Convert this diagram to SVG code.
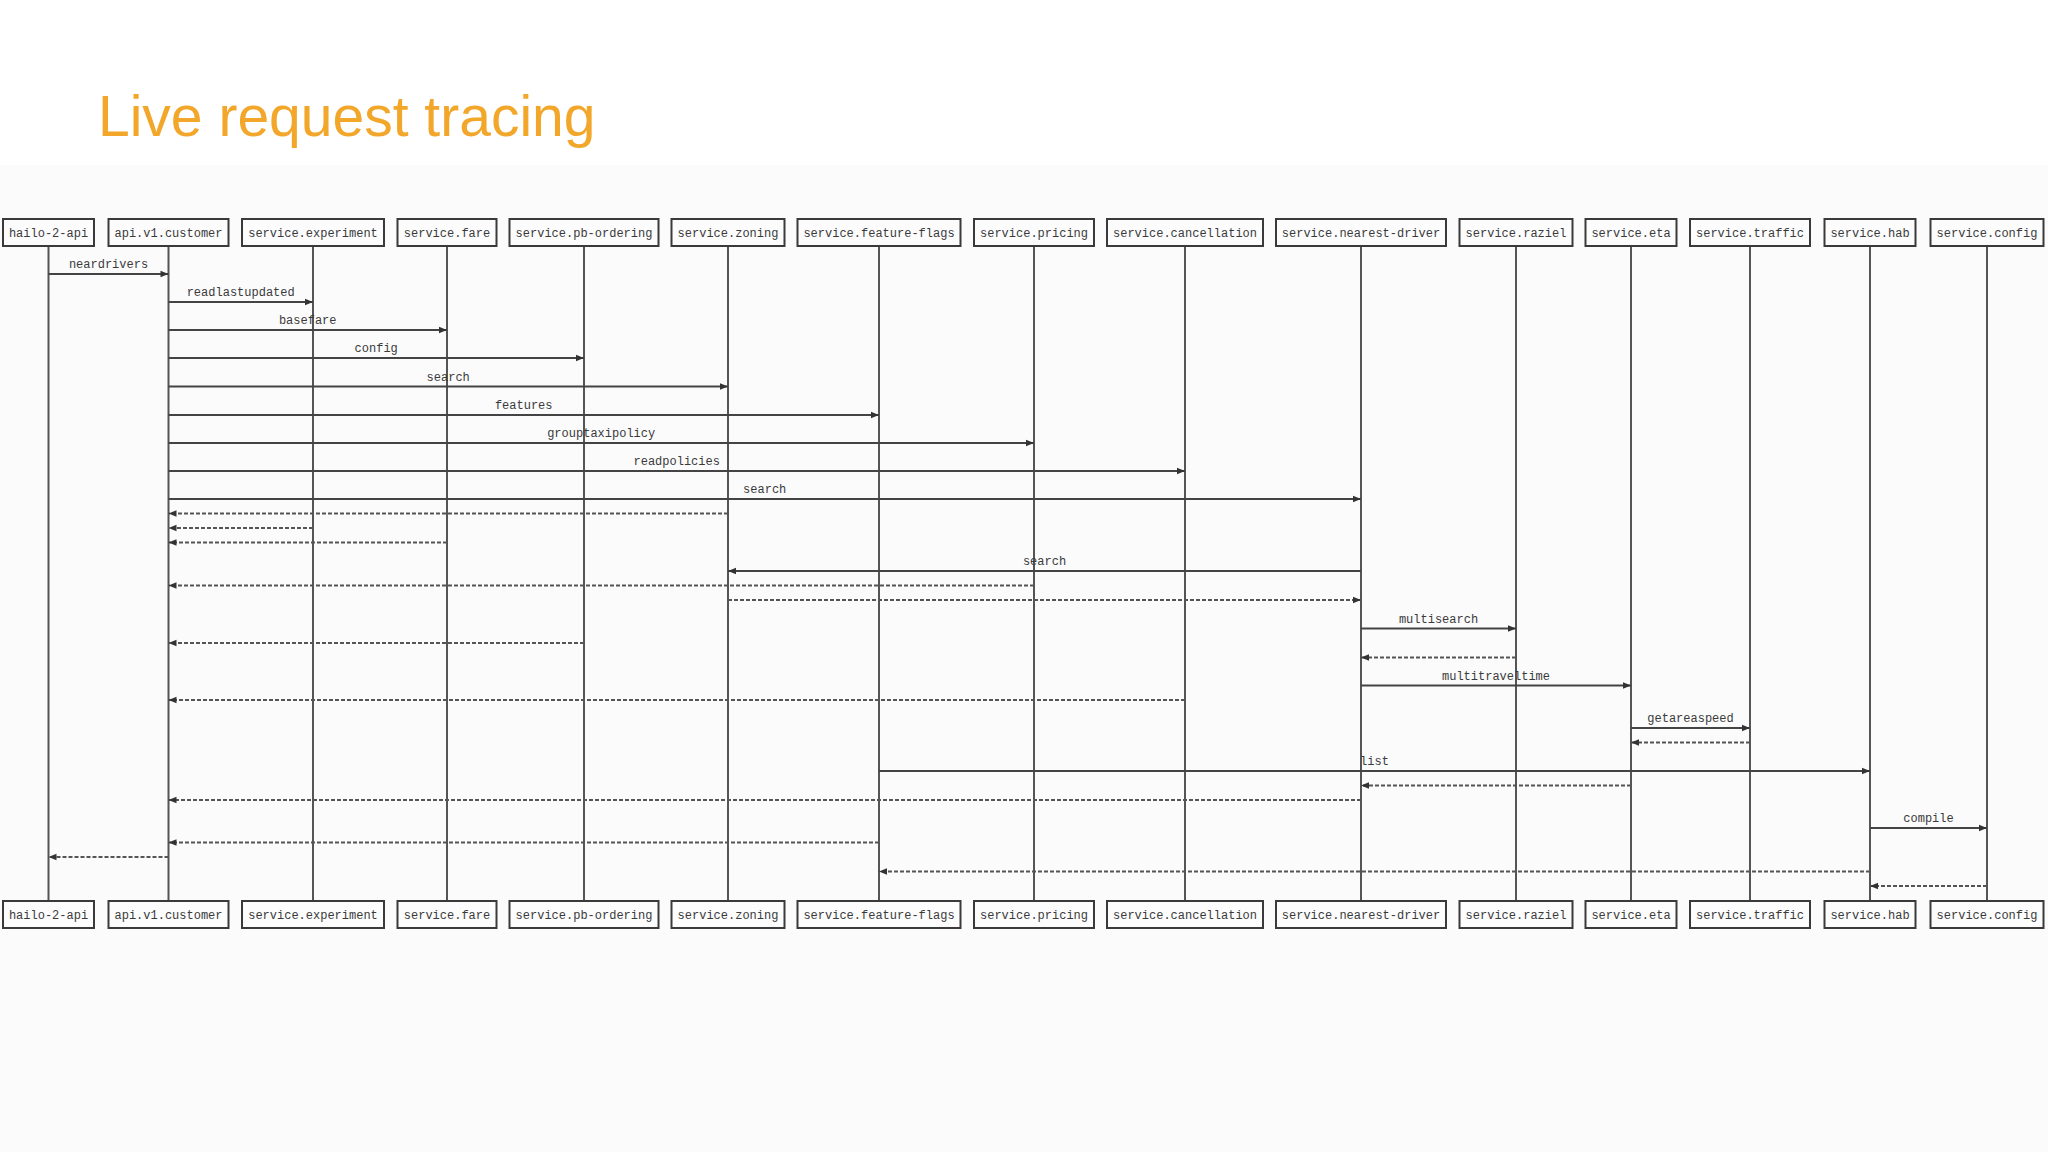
<svg xmlns="http://www.w3.org/2000/svg" width="2048" height="1152" viewBox="0 0 2048 1152">
<defs>
<style>
.box{fill:#fcfcfd;stroke:#3a3a3a;stroke-width:2}
.lbl{font-family:"Liberation Mono","DejaVu Sans Mono",monospace;font-size:12px;fill:#3a3a3a;text-anchor:middle}
.life{stroke:#555;stroke-width:2}
.msg{stroke:#444;stroke-width:2;fill:none;marker-end:url(#ah)}
.ret{stroke:#555;stroke-width:2;fill:none;stroke-dasharray:4 2;marker-end:url(#ah)}
.title{font-family:"Liberation Sans",Arial,sans-serif;font-size:57px;fill:#F2A72B}
</style>
<marker id="ah" viewBox="0 0 10 10" refX="10" refY="5" markerWidth="9" markerHeight="8" markerUnits="userSpaceOnUse" orient="auto">
<path d="M0,1 L10,5 L0,9 z" fill="#333"/>
</marker>
</defs>
<rect x="0" y="0" width="2048" height="1152" fill="#ffffff"/>
<rect x="0" y="165" width="2048" height="987" fill="#fbfbfc"/>
<text class="title" x="98" y="136">Live request tracing</text>

<g id="lifelines">
<line class="life" x1="48.5" y1="246" x2="48.5" y2="901"/>
<line class="life" x1="168.5" y1="246" x2="168.5" y2="901"/>
<line class="life" x1="313" y1="246" x2="313" y2="901"/>
<line class="life" x1="447" y1="246" x2="447" y2="901"/>
<line class="life" x1="584" y1="246" x2="584" y2="901"/>
<line class="life" x1="728" y1="246" x2="728" y2="901"/>
<line class="life" x1="879" y1="246" x2="879" y2="901"/>
<line class="life" x1="1034" y1="246" x2="1034" y2="901"/>
<line class="life" x1="1185" y1="246" x2="1185" y2="901"/>
<line class="life" x1="1361" y1="246" x2="1361" y2="901"/>
<line class="life" x1="1516" y1="246" x2="1516" y2="901"/>
<line class="life" x1="1631" y1="246" x2="1631" y2="901"/>
<line class="life" x1="1750" y1="246" x2="1750" y2="901"/>
<line class="life" x1="1870" y1="246" x2="1870" y2="901"/>
<line class="life" x1="1987" y1="246" x2="1987" y2="901"/>
</g>

<g id="n-hailo-2-api"><rect class="box" x="3" y="219" width="91" height="27"/><text class="lbl" x="48.5" y="237">hailo-2-api</text><rect class="box" x="3" y="901" width="91" height="27"/><text class="lbl" x="48.5" y="919">hailo-2-api</text></g>
<g id="n-api-v1-customer"><rect class="box" x="108.5" y="219" width="120" height="27"/><text class="lbl" x="168.5" y="237">api.v1.customer</text><rect class="box" x="108.5" y="901" width="120" height="27"/><text class="lbl" x="168.5" y="919">api.v1.customer</text></g>
<g id="n-service-experiment"><rect class="box" x="242" y="219" width="142" height="27"/><text class="lbl" x="313" y="237">service.experiment</text><rect class="box" x="242" y="901" width="142" height="27"/><text class="lbl" x="313" y="919">service.experiment</text></g>
<g id="n-service-fare"><rect class="box" x="397.5" y="219" width="99" height="27"/><text class="lbl" x="447" y="237">service.fare</text><rect class="box" x="397.5" y="901" width="99" height="27"/><text class="lbl" x="447" y="919">service.fare</text></g>
<g id="n-service-pb-ordering"><rect class="box" x="509.5" y="219" width="149" height="27"/><text class="lbl" x="584" y="237">service.pb-ordering</text><rect class="box" x="509.5" y="901" width="149" height="27"/><text class="lbl" x="584" y="919">service.pb-ordering</text></g>
<g id="n-service-zoning"><rect class="box" x="671.5" y="219" width="113" height="27"/><text class="lbl" x="728" y="237">service.zoning</text><rect class="box" x="671.5" y="901" width="113" height="27"/><text class="lbl" x="728" y="919">service.zoning</text></g>
<g id="n-service-feature-flags"><rect class="box" x="797.5" y="219" width="163" height="27"/><text class="lbl" x="879" y="237">service.feature-flags</text><rect class="box" x="797.5" y="901" width="163" height="27"/><text class="lbl" x="879" y="919">service.feature-flags</text></g>
<g id="n-service-pricing"><rect class="box" x="974" y="219" width="120" height="27"/><text class="lbl" x="1034" y="237">service.pricing</text><rect class="box" x="974" y="901" width="120" height="27"/><text class="lbl" x="1034" y="919">service.pricing</text></g>
<g id="n-service-cancellation"><rect class="box" x="1107" y="219" width="156" height="27"/><text class="lbl" x="1185" y="237">service.cancellation</text><rect class="box" x="1107" y="901" width="156" height="27"/><text class="lbl" x="1185" y="919">service.cancellation</text></g>
<g id="n-service-nearest-driver"><rect class="box" x="1276" y="219" width="170" height="27"/><text class="lbl" x="1361" y="237">service.nearest-driver</text><rect class="box" x="1276" y="901" width="170" height="27"/><text class="lbl" x="1361" y="919">service.nearest-driver</text></g>
<g id="n-service-raziel"><rect class="box" x="1459.5" y="219" width="113" height="27"/><text class="lbl" x="1516" y="237">service.raziel</text><rect class="box" x="1459.5" y="901" width="113" height="27"/><text class="lbl" x="1516" y="919">service.raziel</text></g>
<g id="n-service-eta"><rect class="box" x="1585.5" y="219" width="91" height="27"/><text class="lbl" x="1631" y="237">service.eta</text><rect class="box" x="1585.5" y="901" width="91" height="27"/><text class="lbl" x="1631" y="919">service.eta</text></g>
<g id="n-service-traffic"><rect class="box" x="1690" y="219" width="120" height="27"/><text class="lbl" x="1750" y="237">service.traffic</text><rect class="box" x="1690" y="901" width="120" height="27"/><text class="lbl" x="1750" y="919">service.traffic</text></g>
<g id="n-service-hab"><rect class="box" x="1824.5" y="219" width="91" height="27"/><text class="lbl" x="1870" y="237">service.hab</text><rect class="box" x="1824.5" y="901" width="91" height="27"/><text class="lbl" x="1870" y="919">service.hab</text></g>
<g id="n-service-config"><rect class="box" x="1930.5" y="219" width="113" height="27"/><text class="lbl" x="1987" y="237">service.config</text><rect class="box" x="1930.5" y="901" width="113" height="27"/><text class="lbl" x="1987" y="919">service.config</text></g>

<g id="connectors">
<line class="msg" x1="48.5" y1="274" x2="168.5" y2="274"/><text class="lbl" x="108.5" y="268">neardrivers</text>
<line class="msg" x1="168.5" y1="302" x2="313" y2="302"/><text class="lbl" x="240.7" y="296">readlastupdated</text>
<line class="msg" x1="168.5" y1="330" x2="447" y2="330"/><text class="lbl" x="307.7" y="324">basefare</text>
<line class="msg" x1="168.5" y1="358" x2="584" y2="358"/><text class="lbl" x="376.2" y="352">config</text>
<line class="msg" x1="168.5" y1="386.5" x2="728" y2="386.5"/><text class="lbl" x="448.2" y="380.5">search</text>
<line class="msg" x1="168.5" y1="415" x2="879" y2="415"/><text class="lbl" x="523.7" y="409">features</text>
<line class="msg" x1="168.5" y1="443" x2="1034" y2="443"/><text class="lbl" x="601.2" y="437">grouptaxipolicy</text>
<line class="msg" x1="168.5" y1="471" x2="1185" y2="471"/><text class="lbl" x="676.7" y="465">readpolicies</text>
<line class="msg" x1="168.5" y1="499" x2="1361" y2="499"/><text class="lbl" x="764.7" y="493">search</text>
<line class="ret" x1="728" y1="513.5" x2="168.5" y2="513.5"/>
<line class="ret" x1="313" y1="528" x2="168.5" y2="528"/>
<line class="ret" x1="447" y1="542.5" x2="168.5" y2="542.5"/>
<line class="msg" x1="1361" y1="571" x2="728" y2="571"/><text class="lbl" x="1044.5" y="565">search</text>
<line class="ret" x1="1034" y1="585.5" x2="168.5" y2="585.5"/>
<line class="ret" x1="728" y1="600" x2="1361" y2="600"/>
<line class="msg" x1="1361" y1="628.5" x2="1516" y2="628.5"/><text class="lbl" x="1438.5" y="622.5">multisearch</text>
<line class="ret" x1="584" y1="643" x2="168.5" y2="643"/>
<line class="ret" x1="1516" y1="657.5" x2="1361" y2="657.5"/>
<line class="msg" x1="1361" y1="685.5" x2="1631" y2="685.5"/><text class="lbl" x="1496" y="679.5">multitraveltime</text>
<line class="ret" x1="1185" y1="700" x2="168.5" y2="700"/>
<line class="msg" x1="1631" y1="728" x2="1750" y2="728"/><text class="lbl" x="1690.5" y="722">getareaspeed</text>
<line class="ret" x1="1750" y1="742.5" x2="1631" y2="742.5"/>
<line class="msg" x1="879" y1="771" x2="1870" y2="771"/><text class="lbl" x="1374.5" y="765">list</text>
<line class="ret" x1="1631" y1="785.5" x2="1361" y2="785.5"/>
<line class="ret" x1="1361" y1="800" x2="168.5" y2="800"/>
<line class="msg" x1="1870" y1="828" x2="1987" y2="828"/><text class="lbl" x="1928.5" y="822">compile</text>
<line class="ret" x1="879" y1="842.5" x2="168.5" y2="842.5"/>
<line class="ret" x1="168.5" y1="857" x2="48.5" y2="857"/>
<line class="ret" x1="1870" y1="871.5" x2="879" y2="871.5"/>
<line class="ret" x1="1987" y1="886" x2="1870" y2="886"/>
</g>
</svg>
